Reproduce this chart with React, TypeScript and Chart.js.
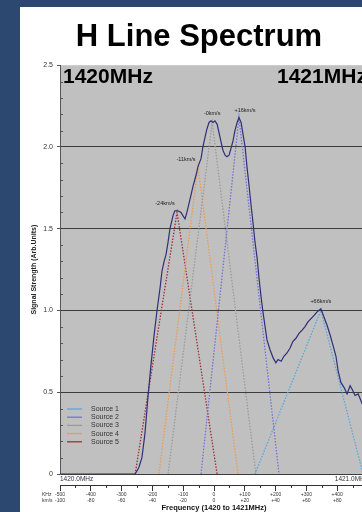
import React, { useEffect, useRef } from "react";
import { Chart, registerables } from "chart.js";

Chart.register(...registerables);

// Measured hydrogen-line spectrum: [offset from line centre in kHz, signal level]
const spectrum: [number, number][] = [
  [-500, 0], [-256, 0], [-244, 0.04], [-234, 0.1], [-224, 0.25], [-214, 0.48],
  [-205, 0.66], [-195, 0.84], [-185, 1.0], [-175, 1.14], [-169, 1.24], [-162, 1.3],
  [-156, 1.34], [-149, 1.42], [-143, 1.5], [-133, 1.58], [-127, 1.61], [-117, 1.61],
  [-107, 1.6], [-101, 1.58], [-94, 1.56], [-88, 1.6], [-78, 1.68], [-68, 1.76],
  [-58, 1.83], [-52, 1.88], [-42, 1.93], [-36, 2.0], [-29, 2.06], [-23, 2.11],
  [-16, 2.15], [-10, 2.16], [-3, 2.15], [3, 2.16], [10, 2.14], [16, 2.09],
  [23, 2.03], [29, 1.98], [36, 1.95], [42, 1.94], [49, 1.95], [55, 1.99],
  [62, 2.04], [68, 2.1], [75, 2.15], [81, 2.18], [88, 2.15], [94, 2.08],
  [101, 2.0], [107, 1.88], [114, 1.76], [120, 1.65], [127, 1.53], [133, 1.42],
  [140, 1.32], [146, 1.2], [153, 1.08], [159, 0.99], [166, 0.9], [172, 0.82],
  [182, 0.76], [192, 0.71], [201, 0.68], [208, 0.7], [218, 0.69], [227, 0.72],
  [237, 0.74], [247, 0.77], [256, 0.81], [266, 0.83], [276, 0.86], [286, 0.88],
  [295, 0.9], [305, 0.93], [315, 0.95], [325, 0.97], [334, 0.99], [347, 1.01],
  [357, 0.96], [367, 0.91], [377, 0.85], [386, 0.79], [396, 0.72], [403, 0.63],
  [412, 0.56], [422, 0.53], [432, 0.49], [442, 0.54], [448, 0.52], [458, 0.48],
  [468, 0.49], [481, 0.43], [490, 0.41], [500, 0.39],
];

// Fitted source components: foot, peak, foot
const source1: [number, number][] = [[133, 0], [347, 1.0], [484, 0]];
const source2: [number, number][] = [[-42, 0], [81, 2.18], [211, 0]];
const source3: [number, number][] = [[-149, 0], [-6, 2.15], [136, 0]];
const source4: [number, number][] = [[-179, 0], [-52, 1.88], [78, 0]];
const source5: [number, number][] = [[-256, 0], [-120, 1.6], [10, 0]];

const sourceNames = ["Source 1", "Source 2", "Source 3", "Source 4", "Source 5"];
const sourceColors = ["#5aa6d6", "#7272d8", "#9a9a9a", "#ee9a4c", "#9c2f3c"];

// Velocity labels placed above each peak
const peakNames = ["-24km/s", "-11km/s", "-0km/s", "+16km/s", "+66km/s"];
const peakKHz = [-120, -52, -6, 81, 347];
const peakLevel = [1.61, 1.88, 2.16, 2.18, 1.01];
const peakLabelShift = [-12, -12, 0, 6, 0];

// Axis ticks
const yTicks = [0, 0.5, 1, 1.5, 2, 2.5];
const kHzTicks = [-500, -400, -300, -200, -100, 0, 100, 200, 300, 400, 500];
const kHzTickLabels = ["-500", "-400", "-300", "-200", "-100", "0", "+100", "+200", "+300", "+400", "+500"];
const kmsTickLabels = ["-100", "-80", "-60", "-40", "-20", "0", "+20", "+40", "+60", "+80", "+100"];
const bandEdgeLabels = ["1420.0MHz", "1421.0MHz"];
const bandTitles = ["1420MHz", "1421MHz"];

const FONT = "'Liberation Sans', Arial, Helvetica, sans-serif";

const toPoints = (arr: [number, number][]) => arr.map(([x, y]) => ({ x, y }));

const decorations = {
  id: "decorations",
  beforeDraw(chart: any) {
    const { ctx, chartArea: a } = chart;
    ctx.save();
    ctx.fillStyle = "#c0c0c0";
    ctx.fillRect(a.left, a.top, a.right - a.left, a.bottom - a.top);
    ctx.restore();
  },
  afterDraw(chart: any) {
    const { ctx, chartArea: a } = chart;
    const xs = chart.scales.x;
    const x2 = chart.scales.x2;
    const ys = chart.scales.y;
    ctx.save();

    // minor ticks on the value axis
    ctx.strokeStyle = "#555";
    ctx.lineWidth = 1;
    for (let k = 1; k < 25; k++) {
      if (k % 5 === 0) continue;
      const py = Math.round(ys.getPixelForValue(k / 10)) + 0.5;
      ctx.beginPath();
      ctx.moveTo(a.left, py);
      ctx.lineTo(a.left + 3, py);
      ctx.stroke();
    }
    // minor ticks on the frequency axis
    ctx.strokeStyle = "#333";
    for (let v = -450; v < 500; v += 100) {
      const px = Math.round(x2.getPixelForValue(v)) + 0.5;
      ctx.beginPath();
      ctx.moveTo(px, x2.top);
      ctx.lineTo(px, x2.top + 3);
      ctx.stroke();
    }

    // unit names in front of the two rows of frequency labels
    ctx.fillStyle = "#333";
    ctx.font = `5px ${FONT}`;
    ctx.textAlign = "left";
    ctx.textBaseline = "middle";
    ctx.fillText("KHz", 42, x2.top + 9.8);
    ctx.fillText("km/s", 42, x2.top + 15.3);

    // band edge titles inside the plot
    ctx.fillStyle = "#000";
    ctx.font = `bold 21px ${FONT}`;
    ctx.textBaseline = "alphabetic";
    ctx.fillText(bandTitles[0], a.left + 3, a.top + 18);
    ctx.fillText(bandTitles[1], a.left + 217, a.top + 18);

    // peak velocity labels
    ctx.fillStyle = "#222";
    ctx.font = `5.5px ${FONT}`;
    ctx.textAlign = "center";
    ctx.textBaseline = "middle";
    peakNames.forEach((name, i) => {
      const px = xs.getPixelForValue(peakKHz[i]) + peakLabelShift[i];
      const py = ys.getPixelForValue(peakLevel[i]) - 7;
      ctx.fillText(name, px, py);
    });

    // legend
    ctx.font = `7px ${FONT}`;
    ctx.textAlign = "left";
    ctx.textBaseline = "middle";
    sourceNames.forEach((name, i) => {
      const ly = a.bottom - 65 + i * 8.2;
      ctx.strokeStyle = sourceColors[i];
      ctx.lineWidth = 1.3;
      ctx.beginPath();
      ctx.moveTo(a.left + 7, ly);
      ctx.lineTo(a.left + 22, ly);
      ctx.stroke();
      ctx.fillStyle = "#333";
      ctx.fillText(name, a.left + 31, ly);
    });
    ctx.restore();
  },
};

export default function App() {
  const canvasRef = useRef<HTMLCanvasElement | null>(null);

  useEffect(() => {
    if (!canvasRef.current) return;
    Chart.defaults.font.family = FONT;
    const sources = [source1, source2, source3, source4, source5];
    const chart = new Chart(canvasRef.current, {
      type: "line",
      data: {
        datasets: [
          {
            label: "Spectrum",
            data: toPoints(spectrum),
            borderColor: "#2e2e78",
            borderWidth: 1.2,
            pointRadius: 0,
            tension: 0,
          },
          ...sources.map((s, i) => ({
            label: sourceNames[i],
            data: toPoints(s),
            borderColor: sourceColors[i],
            borderWidth: 1.3,
            borderDash: [1.5, 1.5],
            pointRadius: 0,
            tension: 0,
          })),
        ],
      },
      options: {
        responsive: false,
        animation: false,
        events: [],
        layout: { padding: { left: 30, top: 7, right: 0, bottom: 0 } },
        plugins: {
          legend: { display: false },
          tooltip: { enabled: false },
          title: {
            display: true,
            text: "H Line Spectrum",
            color: "#000",
            font: { size: 31, weight: "bold", family: FONT, lineHeight: 1.2 },
            padding: { top: 12, bottom: 9 },
          },
        },
        scales: {
          x: {
            type: "linear",
            position: "bottom",
            min: -500,
            max: 500,
            afterBuildTicks: (s: any) => {
              s.ticks = [{ value: -500 }, { value: 500 }];
            },
            afterFit: (s: any) => {
              s.height = 11;
              s.paddingLeft = 0;
              s.paddingRight = 0;
            },
            grid: { display: false, drawTicks: false },
            border: { display: false },
            ticks: {
              autoSkip: false,
              maxRotation: 0,
              align: "inner",
              padding: 1,
              color: "#333",
              font: { size: 6.5 },
              callback: (v: any) => (v < 0 ? bandEdgeLabels[0] : bandEdgeLabels[1]),
            },
          },
          x2: {
            type: "linear",
            position: "bottom",
            min: -500,
            max: 500,
            afterBuildTicks: (s: any) => {
              s.ticks = kHzTicks.map((v) => ({ value: v }));
            },
            afterFit: (s: any) => {
              s.height = 27;
              s.paddingLeft = 0;
              s.paddingRight = 0;
            },
            grid: { drawOnChartArea: false, drawTicks: true, tickLength: 6, color: "#333", tickColor: "#333" },
            border: { display: true, color: "#333", width: 1 },
            ticks: {
              autoSkip: false,
              maxRotation: 0,
              padding: 1,
              color: "#333",
              font: { size: 5, lineHeight: 1.1 },
              callback: (v: any) => {
                const i = kHzTicks.indexOf(v);
                return [kHzTickLabels[i], kmsTickLabels[i]];
              },
            },
            title: {
              display: true,
              text: "Frequency (1420 to 1421MHz)",
              color: "#111",
              font: { size: 7.5, weight: "bold", lineHeight: 1.2 },
              padding: { top: 1, bottom: 0 },
            },
          },
          y: {
            type: "linear",
            min: 0,
            max: 2.5,
            afterBuildTicks: (s: any) => {
              s.ticks = yTicks.map((v) => ({ value: v }));
            },
            afterFit: (s: any) => {
              s.width = 30;
            },
            grid: {
              color: (c: any) => (c.tick && c.tick.value < 2.5 ? "#3c3c3c" : "rgba(0,0,0,0)"),
              tickColor: "#555",
              tickLength: 3,
              lineWidth: 1,
            },
            border: { display: true, color: "#555", width: 1 },
            ticks: { padding: 4, color: "#333", font: { size: 7 } },
            title: {
              display: true,
              text: "Signal Strength (Arb.Units)",
              color: "#222",
              font: { size: 7, weight: "bold", lineHeight: 1.2 },
              padding: { top: 0, bottom: 0 },
            },
          },
        },
      },
      plugins: [decorations],
    } as any);
    return () => chart.destroy();
  }, []);

  return (
    <div
      style={{
        position: "fixed",
        left: 0,
        top: 0,
        width: 362,
        height: 512,
        overflow: "hidden",
        background: "#2c4770",
      }}
    >
      <div style={{ position: "absolute", left: 20, top: 7, right: 0, bottom: 0, background: "#ffffff" }} />
      <canvas
        ref={canvasRef}
        width={368}
        height={512}
        style={{ position: "absolute", left: 0, top: 0, width: 368, height: 512 }}
      />
    </div>
  );
}
